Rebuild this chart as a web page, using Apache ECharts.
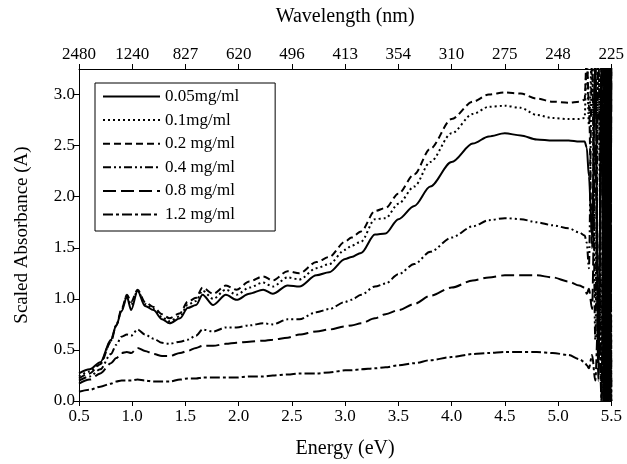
<!DOCTYPE html>
<html>
<head>
<meta charset="utf-8">
<script src="https://cdn.jsdelivr.net/npm/echarts@6/dist/echarts.min.js"></script>
<style>html,body{margin:0;padding:0;background:#fff}#c{width:627px;height:464px}</style>
</head>
<body>
<div id="c"></div>
<script>
const energy = [0.5, 0.6, 0.7, 0.8, 0.85, 0.9, 0.95, 0.99, 1.05, 1.12, 1.2, 1.28, 1.35, 1.45, 1.52, 1.6, 1.66, 1.76, 1.88, 1.98, 2.1, 2.23, 2.32, 2.46, 2.57, 2.73, 2.85, 3.0, 3.06, 3.15, 3.28, 3.38, 3.5, 3.65, 3.8, 4.0, 4.2, 4.35, 4.5, 4.65, 4.8, 4.95, 5.1, 5.2, 5.25];
const c005 = [0.27, 0.31, 0.38, 0.60, 0.74, 0.88, 1.02, 0.89, 1.08, 0.93, 0.89, 0.80, 0.76, 0.81, 0.91, 0.94, 1.04, 0.94, 1.04, 0.99, 1.05, 1.09, 1.05, 1.13, 1.12, 1.23, 1.26, 1.39, 1.41, 1.45, 1.63, 1.64, 1.78, 1.91, 2.10, 2.34, 2.52, 2.59, 2.62, 2.60, 2.56, 2.55, 2.55, 2.54, 2.54];
const c01 = [0.24, 0.29, 0.37, 0.59, 0.74, 0.89, 1.03, 0.94, 1.08, 0.95, 0.90, 0.82, 0.78, 0.83, 0.94, 0.98, 1.08, 1.00, 1.09, 1.04, 1.11, 1.16, 1.12, 1.21, 1.19, 1.30, 1.34, 1.48, 1.52, 1.56, 1.78, 1.79, 1.93, 2.10, 2.34, 2.62, 2.81, 2.88, 2.89, 2.87, 2.80, 2.77, 2.76, 2.76, 2.77];
const c02 = [0.22, 0.27, 0.36, 0.58, 0.74, 0.90, 1.04, 0.97, 1.09, 0.97, 0.92, 0.85, 0.81, 0.86, 0.97, 1.01, 1.11, 1.05, 1.13, 1.09, 1.17, 1.22, 1.18, 1.27, 1.25, 1.36, 1.41, 1.56, 1.60, 1.66, 1.86, 1.89, 2.03, 2.22, 2.47, 2.76, 2.93, 3.00, 3.02, 3.01, 2.96, 2.93, 2.92, 2.93, 2.95];
const c04 = [0.20, 0.24, 0.31, 0.46, 0.55, 0.63, 0.65, 0.64, 0.70, 0.65, 0.61, 0.57, 0.56, 0.58, 0.60, 0.64, 0.70, 0.68, 0.72, 0.72, 0.74, 0.76, 0.75, 0.80, 0.80, 0.87, 0.90, 0.97, 0.99, 1.04, 1.12, 1.15, 1.24, 1.34, 1.46, 1.60, 1.71, 1.77, 1.79, 1.78, 1.75, 1.72, 1.69, 1.65, 1.62];
const c08 = [0.17, 0.21, 0.27, 0.37, 0.42, 0.47, 0.48, 0.47, 0.52, 0.49, 0.46, 0.44, 0.44, 0.47, 0.49, 0.52, 0.54, 0.54, 0.56, 0.57, 0.58, 0.59, 0.60, 0.62, 0.65, 0.68, 0.70, 0.73, 0.74, 0.76, 0.81, 0.85, 0.89, 0.95, 1.03, 1.11, 1.18, 1.21, 1.23, 1.23, 1.23, 1.21, 1.17, 1.13, 1.11];
const c12 = [0.09, 0.11, 0.14, 0.17, 0.19, 0.20, 0.20, 0.20, 0.21, 0.20, 0.19, 0.19, 0.19, 0.21, 0.22, 0.22, 0.23, 0.23, 0.23, 0.23, 0.24, 0.24, 0.25, 0.26, 0.27, 0.27, 0.28, 0.30, 0.30, 0.31, 0.32, 0.33, 0.35, 0.37, 0.40, 0.43, 0.46, 0.47, 0.48, 0.48, 0.48, 0.47, 0.45, 0.41, 0.38];

// noisy cut-off region near 5.3-5.5 eV
const tailEnergy = [5.27, 5.29, 5.32, 5.35, 5.38, 5.41, 5.43, 5.44, 5.45, 5.46, 5.47, 5.48, 5.49, 5.50];
const t005 = [2.48, 2.2, 1.6, 3.4, 0.3, 3.4, 0.0, 3.4, 0.0, 3.4, 0.0, 3.4, 0.0, 3.4];
const t01 = [3.4, 2.7, 3.4, 1.0, 3.4, 0.0, 3.4, 0.0, 3.4, 0.0, 3.4, 0.0, 3.4, 0.0];
const t02 = [3.4, 2.9, 1.5, 3.4, 0.6, 3.4, 0.0, 3.4, 0.0, 3.4, 0.0, 3.4, 0.0, 3.4];
const t04 = [1.55, 1.3, 3.4, 0.6, 3.4, 0.0, 3.4, 0.0, 3.4, 0.0, 3.4, 0.0, 3.4, 0.0];
const t08 = [1.05, 1.1, 0.9, 2.5, 0.2, 3.4, 0.0, 3.4, 0.0, 3.4, 0.0, 3.4, 0.0, 3.4];
const t12 = [0.35, 0.32, 0.45, 0.2, 0.9, 0.0, 3.4, 0.0, 3.4, 0.0, 3.4, 0.0, 3.4, 0.0];

const seriesNames = ['0.05mg/ml', '0.1mg/ml', '0.2 mg/ml', '0.4 mg/ml', '0.8 mg/ml', '1.2 mg/ml'];
const energyTicks = ['0.5', '1.0', '1.5', '2.0', '2.5', '3.0', '3.5', '4.0', '4.5', '5.0', '5.5'];
const wavelengthTicks = ['2480', '1240', '827', '620', '496', '413', '354', '310', '275', '248', '225'];

const mainVals = [c005, c01, c02, c04, c08, c12];
const tailVals = [t005, t01, t02, t04, t08, t12];
const dashes = ['solid', [2, 3], [7, 4], [8, 3, 2, 3, 2, 3], [13, 5], [10, 3, 3, 3]];

const FONT = 'Liberation Serif';
const chart = echarts.init(document.getElementById('c'));

const series = seriesNames.map((name, k) => ({
  name: name,
  type: 'line',
  xAxisIndex: 0,
  yAxisIndex: 0,
  symbol: 'none',
  smooth: 0.3,
  smoothMonotone: 'x',
  clip: true,
  lineStyle: { color: '#000', width: 2, type: dashes[k] },
  itemStyle: { color: '#000' },
  data: energy.map((e, i) => [e, mainVals[k][i]]).concat(tailEnergy.map((e, i) => [e, tailVals[k][i]]))
}));

function idx(v) { return Math.round((v - 0.5) / 0.5); }

chart.setOption({
  animation: false,
  backgroundColor: '#fff',
  textStyle: { fontFamily: FONT, color: '#000' },
  grid: { left: 79, right: 14, top: 69, bottom: 58 },
  legend: {
    orient: 'vertical',
    left: 95,
    top: 83,
    data: seriesNames,
    itemWidth: 57,
    itemHeight: 14,
    itemGap: 6.6,
    padding: [5, 36, 8, 7],
    borderColor: '#000',
    borderWidth: 1,
    itemStyle: { opacity: 0, borderWidth: 0 },
    lineStyle: { color: '#000', width: 2 },
    textStyle: { fontFamily: FONT, fontSize: 17, color: '#000' }
  },
  xAxis: [
    {
      type: 'value', position: 'bottom', min: 0.5, max: 5.5, interval: 0.5,
      name: 'Energy (eV)', nameLocation: 'middle', nameGap: 38,
      nameTextStyle: { fontFamily: FONT, fontSize: 20, color: '#000' },
      axisLine: { show: true, lineStyle: { color: '#000', width: 1 } },
      axisTick: { show: true, length: 5, lineStyle: { color: '#000' } },
      axisLabel: { fontFamily: FONT, fontSize: 17, color: '#000', margin: 7, formatter: v => energyTicks[idx(v)] },
      splitLine: { show: false }
    },
    {
      type: 'value', position: 'top', min: 0.5, max: 5.5, interval: 0.5,
      name: 'Wavelength (nm)', nameLocation: 'middle', nameGap: 42,
      nameTextStyle: { fontFamily: FONT, fontSize: 20, color: '#000' },
      axisLine: { show: true, lineStyle: { color: '#000', width: 1 } },
      axisTick: { show: true, length: 5, lineStyle: { color: '#000' } },
      axisLabel: { fontFamily: FONT, fontSize: 17, color: '#000', margin: 6, formatter: v => wavelengthTicks[idx(v)] },
      splitLine: { show: false }
    }
  ],
  yAxis: {
    type: 'value', min: 0, max: 3.25, interval: 0.5,
    name: 'Scaled Absorbance (A)', nameLocation: 'middle', nameGap: 47,
    nameTextStyle: { fontFamily: FONT, fontSize: 19, color: '#000' },
    axisLine: { show: true, lineStyle: { color: '#000', width: 1 } },
    axisTick: { show: true, length: 5, lineStyle: { color: '#000' } },
    axisLabel: { fontFamily: FONT, fontSize: 17, color: '#000', margin: 4, showMaxLabel: false, formatter: v => v.toFixed(1) },
    splitLine: { show: false }
  },
  series: series
});
</script>
</body>
</html>
